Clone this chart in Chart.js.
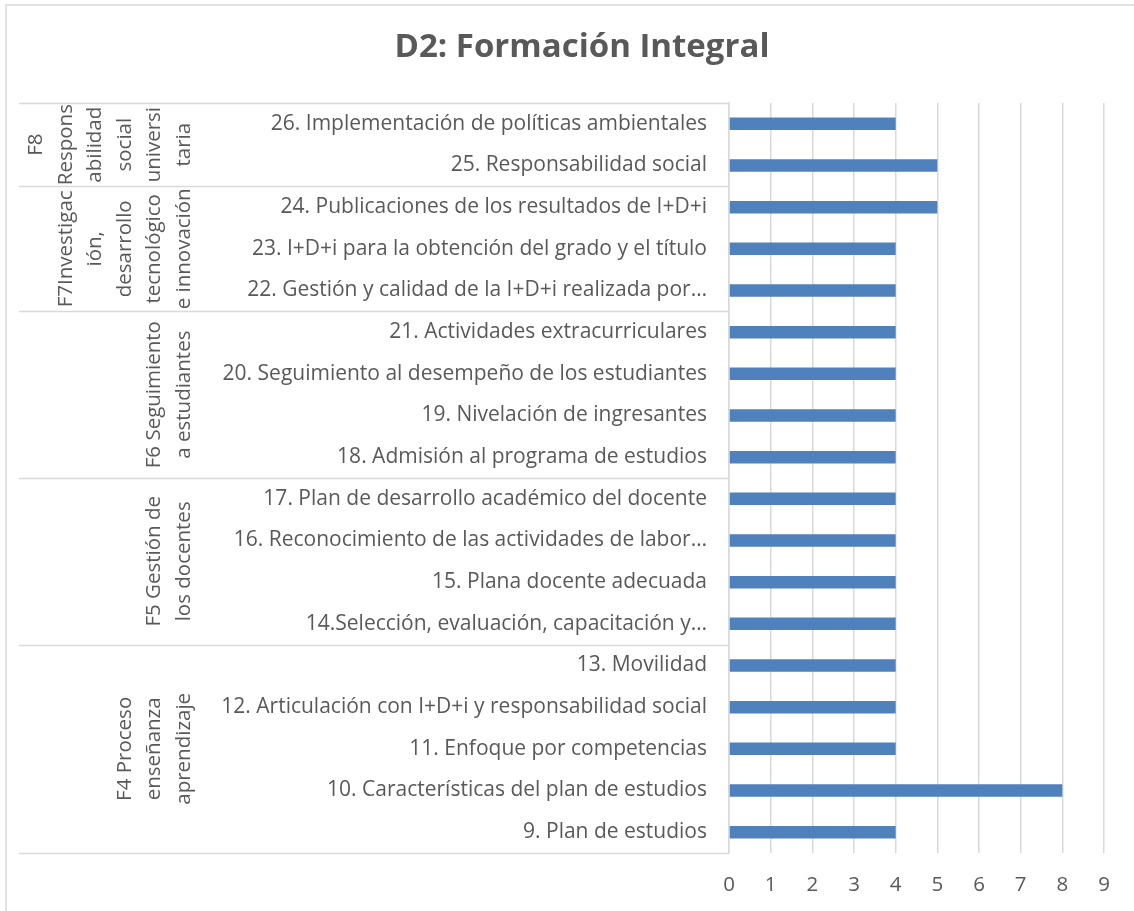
<!DOCTYPE html>
<html>
<head>
<meta charset="utf-8">
<script src="https://cdn.jsdelivr.net/npm/chart.js@4/dist/chart.umd.min.js"></script>
<style>
  html, body { margin: 0; padding: 0; background: #fff; }
  #wrap { width: 1134px; height: 911px; position: relative; }
</style>
</head>
<body>
<div id="wrap"><canvas id="chart" width="1134" height="911"></canvas></div>
<script>
const chartTitle = 'D2: Formación Integral'

// categories, top to bottom
const indicators = [
  '26. Implementación de políticas ambientales',
  '25. Responsabilidad social',
  '24. Publicaciones de los resultados de I+D+i',
  '23. I+D+i para la obtención del grado y el título',
  '22. Gestión y calidad de la I+D+i realizada por…',
  '21. Actividades extracurriculares',
  '20. Seguimiento al desempeño de los estudiantes',
  '19. Nivelación de ingresantes',
  '18. Admisión al programa de estudios',
  '17. Plan de desarrollo académico del docente',
  '16. Reconocimiento de las actividades de labor…',
  '15. Plana docente adecuada',
  '14.Selección, evaluación, capacitación y…',
  '13. Movilidad',
  '12. Articulación con I+D+i y responsabilidad social',
  '11. Enfoque por competencias',
  '10. Características del plan de estudios',
  '9. Plan de estudios'
]
const scores = [4, 5, 5, 4, 4, 4, 4, 4, 4, 4, 4, 4, 4, 4, 4, 4, 8, 4]

// factor groups, top to bottom (lines as wrapped in the picture)
const factorLabels = [
  ['F8', 'Respons', 'abilidad', 'social', 'universi', 'taria'],
  ['F7Investigac', 'ión,', 'desarrollo', 'tecnológico', 'e innovación'],
  ['F6 Seguimiento', 'a estudiantes'],
  ['F5 Gestión de', 'los docentes'],
  ['F4 Proceso', 'enseñanza', 'aprendizaje']
]
const factorSizes = [2, 3, 4, 4, 5]

const xTicks = [0, 1, 2, 3, 4, 5, 6, 7, 8, 9]

const FONT = 'Open Sans'
const TEXT = '#595959'
const LINE = '#d9d9d9'

const decor = {
  id: 'decor',
  beforeDraw(chart) {
    const c = chart.ctx
    c.save()
    c.strokeStyle = LINE
    c.lineWidth = 1.5
    c.strokeRect(6, 5, 1300, 1100)
    c.fillStyle = TEXT
    c.font = 'bold 33px "' + FONT + '"'
    c.textAlign = 'center'
    c.textBaseline = 'middle'
    c.fillText(chartTitle, 582, 48)
    c.restore()
  },
  afterDraw(chart) {
    const c = chart.ctx
    const area = chart.chartArea
    const step = (area.bottom - area.top) / indicators.length
    c.save()
    c.strokeStyle = LINE
    c.lineWidth = 1.5
    let idx = 0
    const bounds = [area.top]
    factorSizes.forEach(n => { idx += n; bounds.push(area.top + idx * step) })
    bounds.forEach(y => {
      c.beginPath()
      c.moveTo(19, Math.round(y) + 0.5)
      c.lineTo(area.left, Math.round(y) + 0.5)
      c.stroke()
    })
    c.fillStyle = TEXT
    c.font = '20.5px "' + FONT + '"'
    c.textAlign = 'center'
    c.textBaseline = 'middle'
    factorLabels.forEach((lines, g) => {
      const cy = (bounds[g] + bounds[g + 1]) / 2
      const n = lines.length
      lines.forEach((t, i) => {
        const x = 184 - (n - 1 - i) * 29.5
        c.save()
        c.translate(x, cy)
        c.rotate(-Math.PI / 2)
        c.fillText(t, 0, 0)
        c.restore()
      })
    })
    c.restore()
  }
}

new Chart(document.getElementById('chart'), {
  type: 'bar',
  data: {
    labels: indicators,
    datasets: [{
      data: scores,
      backgroundColor: '#4f81bd',
      borderWidth: 0,
      categoryPercentage: 1,
      barPercentage: 0.3
    }]
  },
  plugins: [decor],
  options: {
    indexAxis: 'y',
    responsive: false,
    animation: false,
    layout: { padding: { left: 30, right: 30, top: 103, bottom: 12 } },
    plugins: { legend: { display: false }, tooltip: { enabled: false } },
    scales: {
      x: {
        min: 0,
        max: 9,
        afterBuildTicks: s => { s.ticks = xTicks.map(v => ({ value: v })) },
        ticks: { color: TEXT, font: { family: FONT, size: 20.5 }, padding: 20 },
        grid: { color: LINE, lineWidth: 1.5, drawTicks: false },
        border: { display: false },
        afterFit: s => { s.height = 46 }
      },
      y: {
        ticks: { color: TEXT, font: { family: FONT, size: 21 }, padding: 14, autoSkip: false },
        grid: { display: false },
        border: { display: true, color: LINE, width: 1.5 },
        afterFit: s => { s.width = 699 }
      }
    }
  }
})
</script>
</body>
</html>
